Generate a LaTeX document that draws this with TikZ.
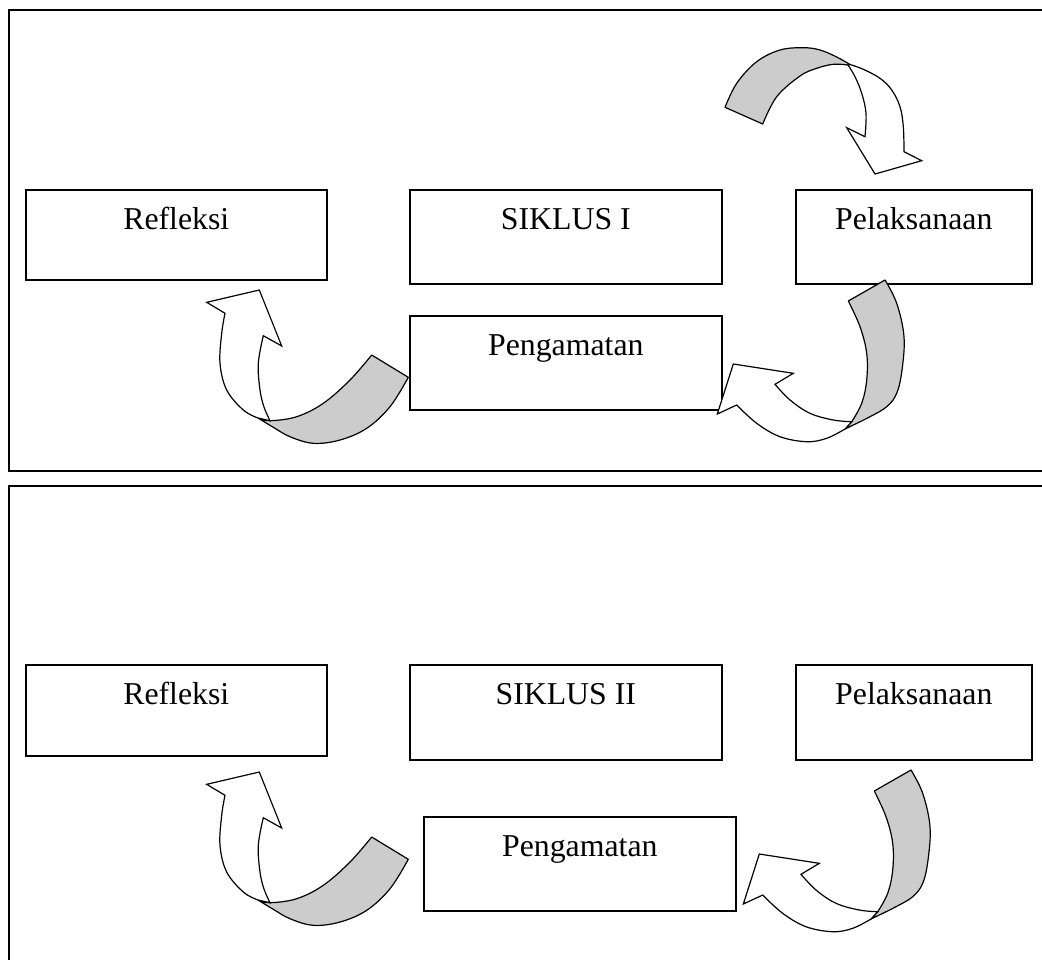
\documentclass[tikz,border=0pt]{standalone}
\usepackage{fontspec}
\setmainfont{Liberation Serif}
\newcommand\boxfont{\fontsize{15.9pt}{19pt}\selectfont}
\definecolor{ribbongray}{HTML}{CCCCCC}
\tikzset{
  frame/.style={draw, line width=1pt},
  box/.style={draw, line width=0.8pt, anchor=north west, inner xsep=0pt, inner ysep=0pt,
    text height=20pt, font=\boxfont, fill=white},
  back/.style={draw, fill=ribbongray, line width=0.6pt, line join=round},
  front/.style={draw, fill=white, line width=0.6pt, line join=miter},
}
\begin{document}
\begin{tikzpicture}[x=0.5pt, y=-0.5pt]
\useasboundingbox (0,0) rectangle (1042,959);
\clip (0,0) rectangle (1042,959);
\fill[white] (0,0) rectangle (1042,959);
% frames
\draw[frame] (9,10) rectangle (1070,471);
\draw[frame] (9,486) rectangle (1070,990);

% ---------- SIKLUS I ----------
\node[box, minimum width=150.5pt, text depth=25pt] (ref1) at (25,189) {Refleksi};
\node[box, minimum width=156pt, text depth=27pt] (sik1) at (409,189) {SIKLUS I};
\node[box, minimum width=118pt, text depth=27pt] (pel1) at (795,189) {Pelaksanaan};
\node[box, minimum width=156pt, text depth=27pt] (pen1) at (409,315) {Pengamatan};

% arrow A (top right)
\filldraw[back] plot[smooth, tension=0.6] coordinates {(725,107.3) (736.7,83.3) (756.7,61.7) (780,50) (803.3,47.7) (820,50) (836.7,57) (850,64.5)}
  -- plot[smooth, tension=0.6] coordinates {(848,65) (833.3,64.3) (816.7,68.3) (800,76) (776.7,96.7) (762.7,124)} -- cycle;
\filldraw[front] plot[smooth, tension=0.6] coordinates {(850,64.5) (863.3,69.3) (880,78.3) (891.7,90) (900,106.7) (903.3,126.7) (904,151.7)}
  -- (921.7,160.7) -- (875,174) -- (846.7,127.7) -- (865,136.7)
  -- plot[smooth, tension=0.6] coordinates {(865,136.7) (866,113.3) (861.7,93.3) (855,76.7) (848,65)} -- cycle;

% arrow B (Pengamatan -> Refleksi)
\begin{scope}
\filldraw[back] plot[smooth, tension=0.6] coordinates {(408.3,377.3) (390,406.7) (366.7,428.3) (340,440) (313.3,443.3) (290,436.7) (273.3,427.3) (258,418)}
  -- plot[smooth, tension=0.6] coordinates {(258,418) (270,420.7) (296.7,416.7) (323.3,403.3) (350,380) (371.7,355)} -- cycle;
\filldraw[front] plot[smooth, tension=0.6] coordinates {(258,418) (243.3,410) (226.7,390) (220,363.3) (221.7,333.3) (225,313.3)}
  -- (206.7,302.3) -- (259.3,290) -- (281.7,346) -- (263.3,335.7)
  -- plot[smooth, tension=0.6] coordinates {(263.3,335.7) (258.3,363.3) (260,390) (264,407) (270,420.7)} -- cycle;
\end{scope}

% arrow C (Pelaksanaan -> Pengamatan)
\begin{scope}
\filldraw[back] plot[smooth, tension=0.6] coordinates {(848.3,301) (860,326.7) (866.7,353.3) (866.7,380) (861.7,403.3) (851.7,421.7)}
  -- (845,429)
  -- plot[smooth, tension=0.6] coordinates {(845,429) (853.3,425) (870,416.7) (886.7,406.7) (896.7,393.3) (902,370) (904,336.7) (896.7,303.3) (885,280)} -- cycle;
\filldraw[front] plot[smooth, tension=0.6] coordinates {(845,429) (826.7,438.3) (806.7,441.7) (780,436.7) (756.7,423.3) (736.7,405)}
  -- (717.3,414) -- (733.3,364) -- (793.3,373.3) -- (775,384.3)
  -- plot[smooth, tension=0.6] coordinates {(775,384.3) (790,400) (810,413.3) (833.3,420) (851.7,421.7)} -- cycle;
\end{scope}

% ---------- SIKLUS II ----------
\node[box, minimum width=150.5pt, text depth=25.5pt] (ref2) at (25,664) {Refleksi};
\node[box, minimum width=156pt, text depth=27.5pt] (sik2) at (409,664) {SIKLUS II};
\node[box, minimum width=118pt, text depth=27.5pt] (pel2) at (795,664) {Pelaksanaan};
\node[box, minimum width=156pt, text depth=27pt] (pen2) at (423,816) {Pengamatan};

% arrow B2
\begin{scope}[shift={(0,482)}]
\filldraw[back] plot[smooth, tension=0.6] coordinates {(408.3,377.3) (390,406.7) (366.7,428.3) (340,440) (313.3,443.3) (290,436.7) (273.3,427.3) (258,418)}
  -- plot[smooth, tension=0.6] coordinates {(258,418) (270,420.7) (296.7,416.7) (323.3,403.3) (350,380) (371.7,355)} -- cycle;
\filldraw[front] plot[smooth, tension=0.6] coordinates {(258,418) (243.3,410) (226.7,390) (220,363.3) (221.7,333.3) (225,313.3)}
  -- (206.7,302.3) -- (259.3,290) -- (281.7,346) -- (263.3,335.7)
  -- plot[smooth, tension=0.6] coordinates {(263.3,335.7) (258.3,363.3) (260,390) (264,407) (270,420.7)} -- cycle;
\end{scope}

% arrow C2
\begin{scope}[shift={(26,490)}]
\filldraw[back] plot[smooth, tension=0.6] coordinates {(848.3,301) (860,326.7) (866.7,353.3) (866.7,380) (861.7,403.3) (851.7,421.7)}
  -- (845,429)
  -- plot[smooth, tension=0.6] coordinates {(845,429) (853.3,425) (870,416.7) (886.7,406.7) (896.7,393.3) (902,370) (904,336.7) (896.7,303.3) (885,280)} -- cycle;
\filldraw[front] plot[smooth, tension=0.6] coordinates {(845,429) (826.7,438.3) (806.7,441.7) (780,436.7) (756.7,423.3) (736.7,405)}
  -- (717.3,414) -- (733.3,364) -- (793.3,373.3) -- (775,384.3)
  -- plot[smooth, tension=0.6] coordinates {(775,384.3) (790,400) (810,413.3) (833.3,420) (851.7,421.7)} -- cycle;
\end{scope}
\end{tikzpicture}
\end{document}
